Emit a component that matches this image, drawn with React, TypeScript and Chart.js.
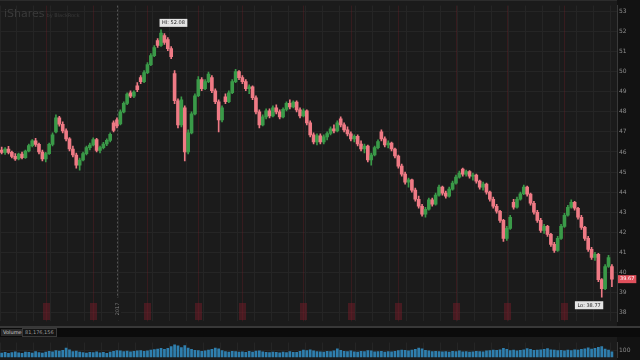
import React, { useEffect, useRef } from "react";
import { Chart, registerables } from "chart.js";
Chart.register(...registerables);

// ---------- data ----------
const opens = [
  46.10, 45.98, 46.15, 45.98, 45.78, 45.65, 45.90, 45.72, 46.05, 46.32,
  46.55, 46.38, 46.00, 45.65, 45.92, 46.38, 47.00, 47.70, 47.38, 47.05,
  46.65, 46.15, 45.85, 45.35, 45.60, 45.92, 46.22, 46.35, 46.62, 46.08,
  46.22, 46.40, 46.58, 47.45, 47.60, 47.40, 48.00, 48.42, 48.95, 48.78,
  49.30, 49.70, 49.50, 49.95, 50.35, 50.80, 51.55, 51.30, 51.80, 51.60,
  51.15, 49.90, 48.55, 47.35, 48.20, 46.00, 46.95, 47.90, 48.80, 49.60,
  49.15, 49.50, 49.70, 49.05, 48.50, 47.60, 48.75, 48.50, 48.95, 49.50,
  50.00, 49.70, 49.50, 49.15, 49.25, 48.70, 48.00, 47.35, 47.75, 48.05,
  47.80, 48.20, 48.00, 47.75, 48.12, 48.42, 48.25, 48.48, 48.10, 47.80,
  48.05, 47.45, 46.85, 46.50, 46.80, 46.50, 46.75, 46.92, 47.15, 47.05,
  47.65, 47.35, 47.10, 46.90, 46.65, 46.78, 46.40, 46.15, 46.30, 45.60,
  45.85, 46.22, 47.00, 46.65, 46.35, 46.45, 46.15, 45.80, 45.30, 44.90,
  44.50, 44.62, 44.10, 43.65, 43.30, 42.90, 43.15, 43.62, 43.40, 43.85,
  44.25, 43.95, 43.80, 44.15, 44.45, 44.75, 45.15, 44.90, 45.02, 44.80,
  44.85, 44.55, 44.25, 44.40, 44.00, 43.65, 43.30, 43.05, 42.60, 41.70,
  42.20, 43.50, 43.25, 43.65, 43.92, 44.25, 43.90, 43.45, 43.00, 42.60,
  42.10, 42.30, 41.90, 41.40, 41.10, 41.70, 42.30, 42.85, 43.25, 43.50,
  43.20, 42.75, 42.25, 41.70, 41.15, 40.75, 40.90, 39.65, 39.20, 40.30,
  40.30,
];
const highs = [
  46.25, 46.22, 46.28, 46.05, 45.92, 45.95, 46.00, 46.10, 46.40, 46.62,
  46.68, 46.45, 46.10, 45.98, 46.45, 46.95, 47.85, 47.78, 47.50, 47.15,
  46.72, 46.30, 45.95, 45.70, 46.00, 46.30, 46.45, 46.70, 46.68, 46.30,
  46.48, 46.65, 46.95, 47.55, 47.70, 48.10, 48.50, 48.95, 49.05, 49.05,
  49.45, 49.80, 50.05, 50.45, 50.90, 51.30, 51.65, 52.08, 51.90, 51.70,
  51.25, 50.05, 48.65, 48.75, 48.30, 47.10, 48.00, 48.90, 49.75, 49.70,
  49.60, 49.98, 49.80, 49.15, 48.60, 48.30, 48.90, 49.05, 49.60, 50.12,
  50.05, 49.80, 49.60, 49.35, 49.30, 48.80, 48.10, 47.85, 48.15, 48.15,
  48.30, 48.35, 48.10, 48.20, 48.50, 48.60, 48.55, 48.55, 48.20, 48.15,
  48.10, 47.55, 46.95, 46.90, 46.90, 46.85, 47.00, 47.25, 47.35, 47.55,
  47.75, 47.45, 47.25, 47.00, 46.85, 46.85, 46.55, 46.40, 46.35, 45.95,
  46.30, 46.60, 47.10, 46.75, 46.55, 46.50, 46.20, 45.85, 45.40, 45.00,
  44.70, 44.65, 44.20, 43.80, 43.40, 43.25, 43.70, 43.70, 43.95, 44.35,
  44.30, 44.05, 44.25, 44.55, 44.85, 45.05, 45.20, 45.10, 45.08, 44.95,
  44.90, 44.60, 44.50, 44.45, 44.05, 43.75, 43.40, 43.10, 42.65, 42.30,
  42.85, 43.65, 43.75, 44.00, 44.35, 44.30, 43.95, 43.55, 43.10, 42.70,
  42.40, 42.35, 41.95, 41.50, 41.80, 42.40, 42.95, 43.35, 43.62, 43.55,
  43.25, 42.85, 42.30, 41.80, 41.25, 41.00, 40.95, 39.70, 40.40, 40.85,
  40.40,
];
const lows = [
  45.90, 45.88, 45.90, 45.70, 45.58, 45.60, 45.65, 45.68, 46.00, 46.25,
  46.28, 45.90, 45.55, 45.50, 45.88, 46.30, 46.95, 47.28, 46.95, 46.55,
  46.05, 45.75, 45.20, 45.10, 45.55, 45.85, 46.10, 46.30, 46.00, 45.95,
  46.15, 46.32, 46.50, 47.00, 47.20, 47.35, 47.95, 48.35, 48.70, 48.70,
  49.00, 49.40, 49.45, 49.90, 50.30, 50.75, 51.20, 51.25, 51.35, 51.05,
  50.65, 48.40, 47.20, 47.25, 45.55, 45.90, 46.90, 47.85, 48.75, 49.05,
  49.10, 49.45, 48.95, 48.40, 47.00, 47.50, 48.40, 48.45, 48.90, 49.45,
  49.60, 49.40, 49.05, 48.90, 48.60, 47.90, 47.20, 47.30, 47.65, 47.70,
  47.75, 47.90, 47.65, 47.70, 48.05, 48.15, 48.20, 48.00, 47.70, 47.75,
  47.35, 46.75, 46.40, 46.35, 46.40, 46.40, 46.60, 46.85, 46.95, 47.00,
  47.25, 47.00, 46.80, 46.55, 46.50, 46.30, 46.05, 45.95, 45.50, 45.35,
  45.80, 46.15, 46.55, 46.25, 46.20, 46.05, 45.70, 45.20, 44.80, 44.40,
  44.25, 44.00, 43.55, 43.20, 42.80, 42.75, 43.10, 43.30, 43.35, 43.80,
  43.85, 43.70, 43.75, 44.10, 44.40, 44.70, 44.80, 44.80, 44.70, 44.60,
  44.45, 44.15, 44.10, 43.90, 43.55, 43.20, 42.95, 42.50, 41.55, 41.60,
  42.15, 43.15, 43.20, 43.60, 43.88, 43.80, 43.35, 42.90, 42.50, 42.00,
  41.95, 41.80, 41.30, 41.00, 41.05, 41.65, 42.25, 42.80, 43.20, 43.10,
  42.65, 42.15, 41.60, 41.05, 40.65, 40.60, 39.55, 38.77, 39.15, 40.25,
  39.30,
];
const closes = [
  45.98, 46.15, 45.98, 45.78, 45.65, 45.90, 45.72, 46.05, 46.32, 46.55,
  46.38, 46.00, 45.65, 45.92, 46.38, 46.85, 47.70, 47.38, 47.05, 46.65,
  46.15, 45.85, 45.35, 45.60, 45.92, 46.22, 46.35, 46.62, 46.08, 46.22,
  46.40, 46.58, 46.88, 47.08, 47.30, 48.00, 48.42, 48.88, 48.78, 48.98,
  49.10, 49.50, 49.95, 50.35, 50.80, 51.20, 51.30, 51.92, 51.45, 51.15,
  50.75, 48.55, 47.35, 48.60, 46.00, 46.95, 47.90, 48.80, 49.60, 49.15,
  49.50, 49.88, 49.05, 48.50, 47.60, 48.20, 48.50, 48.95, 49.50, 50.00,
  49.70, 49.50, 49.15, 49.25, 48.70, 48.00, 47.35, 47.75, 48.05, 47.80,
  48.20, 48.00, 47.75, 48.12, 48.42, 48.25, 48.48, 48.10, 47.80, 48.05,
  47.45, 46.85, 46.50, 46.80, 46.50, 46.75, 46.92, 47.15, 47.05, 47.45,
  47.35, 47.10, 46.90, 46.65, 46.78, 46.40, 46.15, 46.30, 45.60, 45.85,
  46.22, 46.52, 46.65, 46.35, 46.45, 46.15, 45.80, 45.30, 44.90, 44.50,
  44.62, 44.10, 43.65, 43.30, 42.90, 43.15, 43.62, 43.40, 43.85, 44.25,
  43.95, 43.80, 44.15, 44.45, 44.75, 44.95, 44.90, 45.02, 44.80, 44.85,
  44.55, 44.25, 44.40, 44.00, 43.65, 43.30, 43.05, 42.60, 41.70, 42.20,
  42.75, 43.25, 43.65, 43.92, 44.25, 43.90, 43.45, 43.00, 42.60, 42.10,
  42.30, 41.90, 41.40, 41.10, 41.70, 42.30, 42.85, 43.25, 43.50, 43.20,
  42.75, 42.25, 41.70, 41.15, 40.75, 40.90, 39.65, 39.20, 40.30, 40.75,
  39.67,
];
// volume, millions of shares
const volumes = [
  62, 74, 58, 70, 80, 66, 60, 78, 72, 64,
  82, 70, 64, 76, 88, 80, 96, 90, 100, 130,
  108, 84, 90, 78, 70, 62, 74, 68, 80, 66,
  72, 60, 76, 86, 98, 92, 84, 90, 80, 86,
  92, 98, 86, 94, 104, 110, 118, 126, 112, 128,
  150, 175, 160, 138, 165, 132, 112, 100, 96, 88,
  92, 104, 112, 130, 120, 96, 84, 78, 88, 82,
  76, 80, 72, 86, 78, 90, 94, 80, 74, 68,
  78, 72, 66, 76, 70, 82, 74, 72, 86, 104,
  96, 108, 92, 84, 80, 76, 88, 82, 92, 120,
  100, 88, 84, 92, 80, 76, 88, 84, 96, 92,
  80, 84, 88, 76, 82, 80, 88, 96, 104, 100,
  92, 104, 112, 130, 120, 100, 92, 84, 88, 82,
  80, 84, 76, 88, 84, 92, 80, 84, 76, 80,
  88, 84, 80, 92, 96, 104, 100, 108, 128, 112,
  96, 104, 92, 100, 108, 124, 112, 100, 104, 108,
  114, 122, 108, 104, 96, 100, 92, 104, 96, 108,
  104, 112, 120, 135, 118, 126, 142, 150, 116, 104,
  81.18,
];
const priceTicks = [38, 39, 40, 41, 42, 43, 44, 45, 46, 47, 48, 49, 50, 51, 52, 53];
const volumeTicks = [100];
const markerIdx = [13, 27, 43, 58, 71, 89, 103, 117, 134, 149, 166];
const yearIdx = 34;
const yearLabel = "2017";
const brandTitle = "iShares";
const brandSub = "by BlackRock";
const volumeTitle = "Volume";
const volumeValue = "81,176,156";

// ---------- styles ----------
const UP = "#3a9a48";
const DOWN = "#ef7a85";
const BG = "#1b1b1b";
const AXIS_BG = "#121212";
const FONT = "'DejaVu Sans', sans-serif";
const AXIS_W = 23;

export default function App() {
  const priceRef = useRef<HTMLCanvasElement>(null);
  const volRef = useRef<HTMLCanvasElement>(null);

  useEffect(() => {
    document.body.style.margin = "0";
    document.body.style.background = BG;
    const labels = opens.map((_, i) => String(i)).concat([""]);
    const colors = opens.map((o, i) => (closes[i] >= o ? UP : DOWN));

    const bgPlugin = {
      id: "bgPlugin",
      beforeDraw(chart: any) {
        const { ctx, chartArea: a, width, height } = chart;
        ctx.save();
        ctx.fillStyle = AXIS_BG;
        ctx.fillRect(0, 0, width, height);
        ctx.fillStyle = BG;
        ctx.fillRect(0, 0, a.right, height);
        ctx.restore();
      },
    };

    const pricePlugin = {
      id: "priceDecor",
      beforeDatasetsDraw(chart: any) {
        const { ctx, chartArea: a, scales } = chart;
        const x = scales.x;
        ctx.save();
        ctx.fillStyle = "#2c2c2c";
        ctx.fillRect(0, 0, a.right, 1);
        // watermark
        ctx.fillStyle = "#3a3a3a";
        ctx.font = `11px ${FONT}`;
        ctx.textBaseline = "alphabetic";
        ctx.textAlign = "left";
        ctx.fillText(brandTitle, 4, 17);
        const tw = ctx.measureText(brandTitle).width;
        ctx.font = `5px ${FONT}`;
        ctx.fillText(brandSub, 4 + tw + 2, 17);
        // red markers
        for (const i of markerIdx) {
          const px = Math.round(x.getPixelForValue(i)) + 0.5;
          ctx.strokeStyle = "rgba(110,30,38,0.35)";
          ctx.lineWidth = 1;
          ctx.beginPath();
          ctx.moveTo(px, a.top);
          ctx.lineTo(px, a.bottom);
          ctx.stroke();
          ctx.fillStyle = "rgba(115,28,40,0.5)";
          ctx.fillRect(px - 3.5, 303, 7, 17);
        }
        // year separator
        const yx = Math.round(x.getPixelForValue(yearIdx)) + 0.5;
        ctx.strokeStyle = "#555555";
        ctx.lineWidth = 1;
        ctx.setLineDash([2, 2]);
        ctx.beginPath();
        ctx.moveTo(yx, a.top);
        ctx.lineTo(yx, a.bottom);
        ctx.stroke();
        ctx.setLineDash([]);
        ctx.fillStyle = BG;
        ctx.fillRect(yx - 3.5, 298, 7, 22);
        ctx.translate(yx, 309);
        ctx.rotate(-Math.PI / 2);
        ctx.fillStyle = "#808080";
        ctx.font = `5px ${FONT}`;
        ctx.textAlign = "center";
        ctx.textBaseline = "middle";
        ctx.fillText(yearLabel, 0, 0);
        ctx.restore();
      },
      afterDatasetsDraw(chart: any) {
        const { ctx, chartArea: a, scales } = chart;
        const x = scales.x;
        const y = scales.y;
        ctx.save();
        ctx.font = `5px ${FONT}`;
        ctx.textBaseline = "middle";
        let hiI = 0;
        let loI = 0;
        highs.forEach((h, i) => { if (h > highs[hiI]) hiI = i; });
        lows.forEach((l, i) => { if (l < lows[loI]) loI = i; });
        const hiTxt = `HI: ${highs[hiI].toFixed(2)}`;
        const hiW = ctx.measureText(hiTxt).width + 5;
        const hx = x.getPixelForValue(hiI) - 1.5;
        const hy = y.getPixelForValue(highs[hiI]) - 11;
        ctx.fillStyle = "#e4e4e4";
        ctx.fillRect(hx, hy, hiW, 8);
        ctx.fillStyle = "#222";
        ctx.textAlign = "left";
        ctx.fillText(hiTxt, hx + 2.5, hy + 4);
        const loTxt = `Lo: ${lows[loI].toFixed(2)}`;
        const loW = ctx.measureText(loTxt).width + 5;
        const lx = x.getPixelForValue(loI) + 1.5 - loW;
        const ly = y.getPixelForValue(lows[loI]) + 4;
        ctx.fillStyle = "#e4e4e4";
        ctx.fillRect(lx, ly, loW, 8);
        ctx.fillStyle = "#222";
        ctx.fillText(loTxt, lx + 2.5, ly + 4);
        const last = closes.length - 1;
        const cy = y.getPixelForValue(closes[last]);
        const cTxt = closes[last].toFixed(2);
        const cW = ctx.measureText(cTxt).width + 4;
        ctx.fillStyle = "#e0505c";
        ctx.fillRect(a.right + 1, cy - 4, cW, 8);
        ctx.fillStyle = "#ffffff";
        ctx.fillText(cTxt, a.right + 3, cy);
        ctx.restore();
      },
    };

    const weekGrid = (ctx: any) =>
      ctx.index % 5 === 0 ? "#252525" : "rgba(0,0,0,0)";

    const pc = new Chart(priceRef.current as HTMLCanvasElement, {
      type: "bar",
      data: {
        labels,
        datasets: [
          {
            label: "range",
            data: lows.map((l, i) => [l, highs[i]]) as any,
            backgroundColor: colors,
            barThickness: 1,
            grouped: false,
            order: 2,
          } as any,
          {
            label: "body",
            data: opens.map((o, i) => [o, closes[i]]) as any,
            backgroundColor: colors,
            barThickness: 3,
            grouped: false,
            order: 1,
          } as any,
        ],
      },
      options: {
        responsive: false,
        animation: false,
        devicePixelRatio: 1,
        layout: { padding: 0 },
        plugins: { legend: { display: false }, tooltip: { enabled: false } },
        scales: {
          x: {
            ticks: { display: false, autoSkip: false },
            grid: { color: weekGrid, drawTicks: false, offset: true },
            border: { display: false },
          },
          y: {
            position: "right",
            min: 37.567,
            max: 53.288,
            afterBuildTicks: (axis: any) => {
              axis.ticks = priceTicks.map((v) => ({ value: v }));
            },
            afterFit: (axis: any) => {
              axis.width = AXIS_W;
            },
            ticks: {
              color: "#8c8c8c",
              font: { size: 6, family: FONT },
              padding: 2,
              callback: (v: any) => String(v),
            },
            grid: { color: "#252525", drawTicks: false },
            border: { color: "#3a3a3a" },
          },
        },
      } as any,
      plugins: [bgPlugin, pricePlugin],
    });

    const vc = new Chart(volRef.current as HTMLCanvasElement, {
      type: "bar",
      data: {
        labels,
        datasets: [
          {
            label: "volume",
            data: volumes,
            backgroundColor: "#2f7fae",
            barPercentage: 0.8,
            categoryPercentage: 1,
          },
        ],
      },
      options: {
        responsive: false,
        animation: false,
        devicePixelRatio: 1,
        layout: { padding: 0 },
        plugins: { legend: { display: false }, tooltip: { enabled: false } },
        scales: {
          x: {
            ticks: { display: false, autoSkip: false },
            grid: { color: weekGrid, drawTicks: false, offset: true },
            border: { display: false },
          },
          y: {
            position: "right",
            min: 0,
            max: 200,
            afterBuildTicks: (axis: any) => {
              axis.ticks = volumeTicks.map((v) => ({ value: v }));
            },
            afterFit: (axis: any) => {
              axis.width = AXIS_W;
            },
            ticks: {
              color: "#8c8c8c",
              font: { size: 6, family: FONT },
              padding: 2,
              callback: (v: any) => String(v),
            },
            grid: { color: "#252525", drawTicks: false },
            border: { color: "#3a3a3a" },
          },
        },
      } as any,
      plugins: [bgPlugin],
    });

    return () => {
      pc.destroy();
      vc.destroy();
    };
  }, []);

  const boxText: React.CSSProperties = {
    position: "absolute",
    top: 329,
    height: 7,
    fontSize: 5,
    lineHeight: "7px",
    fontFamily: FONT,
    padding: "0 2px",
    whiteSpace: "nowrap",
  };

  return (
    <div
      style={{
        position: "relative",
        width: 640,
        height: 360,
        overflow: "hidden",
        background: BG,
      }}
    >
      <canvas
        ref={priceRef}
        width={640}
        height={327}
        style={{ position: "absolute", left: 0, top: 0, width: 640, height: 327 }}
      />
      <div style={{ position: "absolute", left: 0, top: 326, width: 640, height: 2, background: "#383838" }} />
      <div style={{ position: "absolute", left: 0, top: 328, width: 640, height: 9, background: "#0b0b0b" }} />
      <div style={{ ...boxText, left: 1, background: "#2a2a2a", color: "#cfcfcf" }}>{volumeTitle}</div>
      <div style={{ ...boxText, left: 22, background: "#141414", color: "#9a9a9a", border: "1px solid #3a3a3a", top: 328 }}>
        {volumeValue}
      </div>
      <canvas
        ref={volRef}
        width={640}
        height={26}
        style={{ position: "absolute", left: 0, top: 337, width: 640, height: 26 }}
      />
    </div>
  );
}
